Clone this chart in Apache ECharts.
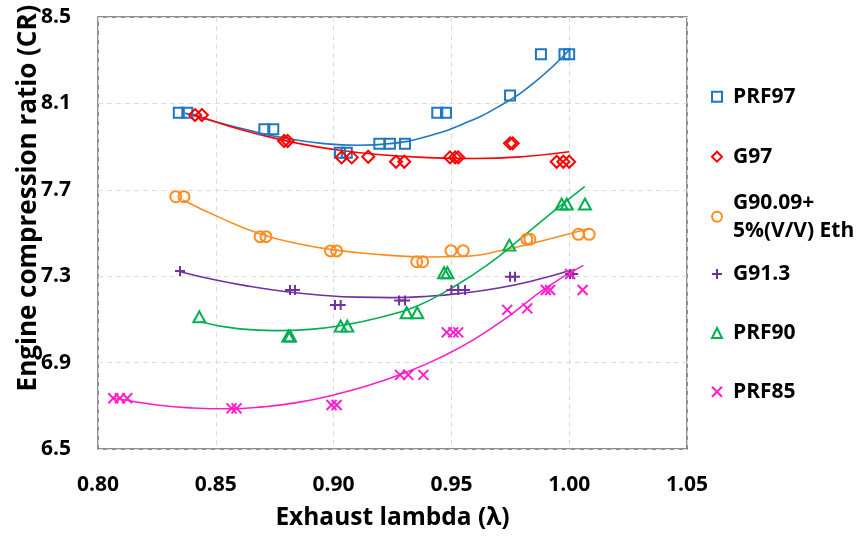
<!DOCTYPE html>
<html>
<head>
<meta charset="utf-8">
<script src="https://cdn.jsdelivr.net/npm/echarts@6/dist/echarts.min.js"></script>
<style>html,body{margin:0;padding:0;background:#fff;}#c{width:859px;height:537px;}</style>
</head>
<body>
<div id="c"></div>
<script>
// ---- axis ticks ----
var xTicks = [0.80, 0.85, 0.90, 0.95, 1.00, 1.05];
var yTicks = [6.5, 6.9, 7.3, 7.7, 8.1, 8.5];

// ---- series names ----
var names = ['PRF97', 'G97', 'G90.09+\n5%(V/V) Eth', 'G91.3', 'PRF90', 'PRF85'];

// ---- measured points ----
var prf97X = [0.8343, 0.8379, 0.8706, 0.8744, 0.9027, 0.9056, 0.9194, 0.9239, 0.9303, 0.9440, 0.9477, 0.9749, 0.9880, 0.9980, 1.0000];
var prf97Y = [8.057, 8.057, 7.980, 7.980, 7.872, 7.872, 7.913, 7.913, 7.913, 8.057, 8.057, 8.137, 8.327, 8.327, 8.327];

var g97X = [0.8412, 0.8441, 0.8790, 0.8805, 0.9034, 0.9077, 0.9147, 0.9265, 0.9300, 0.9494, 0.9516, 0.9529, 0.9749, 0.9760, 0.9947, 0.9975, 1.0000];
var g97Y = [8.046, 8.046, 7.926, 7.926, 7.850, 7.850, 7.853, 7.830, 7.830, 7.850, 7.850, 7.850, 7.915, 7.915, 7.830, 7.830, 7.830];

var g90X = [0.8330, 0.8365, 0.8688, 0.8713, 0.8987, 0.9013, 0.9353, 0.9378, 0.9498, 0.9550, 0.9820, 0.9833, 1.0039, 1.0085];
var g90Y = [7.668, 7.668, 7.483, 7.483, 7.417, 7.417, 7.367, 7.367, 7.418, 7.418, 7.471, 7.471, 7.494, 7.494];

var g913X = [0.8348, 0.8815, 0.8836, 0.9006, 0.9030, 0.9278, 0.9303, 0.9500, 0.9529, 0.9558, 0.9749, 0.9770, 1.0004, 1.0017];
var g913Y = [7.324, 7.236, 7.236, 7.167, 7.167, 7.187, 7.187, 7.236, 7.236, 7.236, 7.298, 7.298, 7.310, 7.310];

var prf90X = [0.8430, 0.8808, 0.8815, 0.9030, 0.9058, 0.9310, 0.9355, 0.9469, 0.9483, 0.9746, 0.9968, 0.9990, 1.0067];
var prf90Y = [7.112, 7.023, 7.023, 7.069, 7.069, 7.131, 7.131, 7.316, 7.316, 7.444, 7.634, 7.634, 7.634];

var prf85X = [0.8065, 0.8093, 0.8124, 0.8567, 0.8588, 0.8991, 0.9013, 0.9282, 0.9317, 0.9381, 0.9480, 0.9508, 0.9529, 0.9737, 0.9822, 0.9901, 0.9919, 1.0004, 1.0057];
var prf85Y = [6.735, 6.735, 6.735, 6.688, 6.688, 6.704, 6.704, 6.843, 6.843, 6.843, 7.040, 7.040, 7.040, 7.144, 7.151, 7.236, 7.236, 7.310, 7.236];

// ---- trend curves ----
var prf97FitX = [0.837, 0.850, 0.865, 0.880, 0.895, 0.910, 0.925, 0.940, 0.955, 0.970, 0.985, 1.000];
var prf97FitY = [8.055, 8.015, 7.973, 7.938, 7.915, 7.906, 7.915, 7.948, 8.005, 8.085, 8.195, 8.347];

var g97FitX = [0.839, 0.855, 0.870, 0.885, 0.900, 0.920, 0.940, 0.960, 0.980, 1.000];
var g97FitY = [8.054, 7.997, 7.952, 7.915, 7.887, 7.862, 7.849, 7.845, 7.853, 7.876];

var g90FitX = [0.836, 0.852, 0.869, 0.885, 0.900, 0.920, 0.940, 0.955, 0.9735, 0.990, 1.0088];
var g90FitY = [7.653, 7.570, 7.495, 7.450, 7.422, 7.400, 7.389, 7.391, 7.425, 7.468, 7.522];

var g913FitX = [0.835, 0.850, 0.865, 0.880, 0.895, 0.910, 0.925, 0.940, 0.955, 0.970, 0.985, 1.001];
var g913FitY = [7.321, 7.282, 7.252, 7.228, 7.212, 7.203, 7.201, 7.207, 7.222, 7.245, 7.280, 7.329];

var prf90FitX = [0.8433, 0.860, 0.875, 0.890, 0.905, 0.920, 0.935, 0.950, 0.965, 0.980, 0.995, 1.0066];
var prf90FitY = [7.089, 7.056, 7.048, 7.054, 7.075, 7.110, 7.160, 7.245, 7.350, 7.480, 7.615, 7.715];

var prf85FitX = [0.8065, 0.825, 0.840, 0.855, 0.870, 0.885, 0.900, 0.915, 0.930, 0.945, 0.960, 0.975, 0.990, 1.006];
var prf85FitY = [6.736, 6.704, 6.690, 6.686, 6.695, 6.716, 6.750, 6.795, 6.852, 6.922, 7.010, 7.120, 7.245, 7.350];

var colors = ['#1F77C4', '#FF0000', '#FF8C1F', '#7030A0', '#00B050', '#FF1ECC'];
var symbols = ['rect', 'diamond', 'circle', 'path://M0,5L10,5M5,0L5,10', 'triangle', 'path://M0,0L10,10M10,0L0,10'];
var sizes = [10, 12, 11, 10, [12, 11], 10];
var legendCenters = [96.7, 156.7, 216.7, 274, 333, 391.7];

function zip(xs, ys) { return xs.map(function (x, i) { return [x, ys[i]]; }); }

var pts = [zip(prf97X, prf97Y), zip(g97X, g97Y), zip(g90X, g90Y), zip(g913X, g913Y), zip(prf90X, prf90Y), zip(prf85X, prf85Y)];
var fits = [zip(prf97FitX, prf97FitY), zip(g97FitX, g97FitY), zip(g90FitX, g90FitY), zip(g913FitX, g913FitY), zip(prf90FitX, prf90FitY), zip(prf85FitX, prf85FitY)];

var FONT = '"Open Sans", "Noto Sans", sans-serif';
var series = [];
fits.forEach(function (d, i) {
  series.push({
    name: names[i] + ' fit', type: 'line', data: d, smooth: 0.5, showSymbol: false, symbol: 'none',
    lineStyle: { color: colors[i], width: 1.6 }, z: 1, silent: true
  });
});
pts.forEach(function (d, i) {
  series.push({
    name: names[i], type: 'scatter', data: d, symbol: symbols[i], symbolSize: sizes[i],
    itemStyle: { color: 'rgba(255,255,255,0)', borderColor: colors[i], borderWidth: 2, opacity: 1 },
    z: 3
  });
});

var legends = names.map(function (n, i) {
  var multi = n.indexOf('\n') >= 0;
  return {
    data: [n], orient: 'vertical', left: 711, top: legendCenters[i] - (multi ? 42 : 14), padding: 0,
    itemWidth: 10, itemHeight: 10, selectedMode: false,
    itemStyle: { color: 'rgba(255,255,255,0)', borderColor: colors[i], borderWidth: 2 },
    textStyle: { fontSize: 21, fontWeight: 'bold', color: '#000', fontFamily: FONT, lineHeight: 28,
      padding: multi ? [28, 0, 0, 6] : [0, 0, 0, 6] }
  };
});

var chart = echarts.init(document.getElementById('c'), null, { renderer: 'canvas' });
chart.setOption({
  backgroundColor: '#fff',
  animation: false,
  textStyle: { fontFamily: FONT },
  grid: { left: 98, right: 172, top: 17, bottom: 88, show: true, borderColor: '#6b6b6b', borderWidth: 1.5, outerBoundsMode: 'none' },
  legend: legends,
  xAxis: {
    type: 'value', min: xTicks[0], max: xTicks[xTicks.length - 1], interval: 0.05,
    name: 'Exhaust lambda (λ)', nameLocation: 'middle', nameGap: 57, nameMoveOverlap: false,
    nameTextStyle: { fontSize: 24.5, fontWeight: 'bold', color: '#000', fontFamily: FONT },
    axisLine: { show: false }, axisTick: { show: false },
    axisLabel: { fontSize: 21, fontWeight: 'bold', color: '#000', margin: 26, fontFamily: FONT,
      formatter: function (v) { return v.toFixed(2); } },
    splitLine: { show: true, lineStyle: { color: '#dcdcdc', type: [5, 4], width: 1 } }
  },
  yAxis: {
    type: 'value', min: yTicks[0], max: yTicks[yTicks.length - 1], interval: 0.4,
    name: 'Engine compression ratio (CR)', nameLocation: 'middle', nameGap: 56, nameMoveOverlap: false,
    nameTextStyle: { fontSize: 26, fontWeight: 'bold', color: '#000', fontFamily: FONT, padding: [0, 0, 0, 70] },
    axisLine: { show: false }, axisTick: { show: false },
    axisLabel: { fontSize: 21, fontWeight: 'bold', color: '#000', margin: 27, fontFamily: FONT,
      formatter: function (v) { return v.toFixed(1); } },
    splitLine: { show: true, lineStyle: { color: '#dcdcdc', type: [5, 4], width: 1 } }
  },
  series: series
});
</script>
</body>
</html>
